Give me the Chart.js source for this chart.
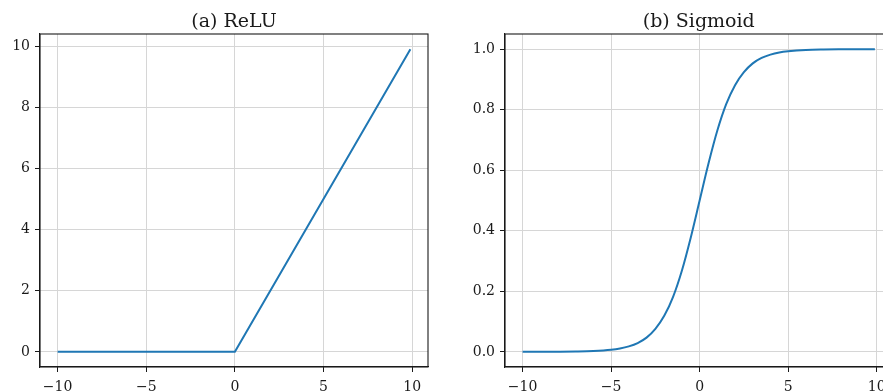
<!DOCTYPE html>
<html>
<head>
<meta charset="utf-8">
<script src="https://cdn.jsdelivr.net/npm/chart.js@4"></script>
<style>
  html, body { margin: 0; padding: 0; background: #fff; overflow: hidden; width: 883px; height: 392px; }
  #reluChart { position: absolute; left: 0; top: 0; }
  #sigmoidChart { position: absolute; left: 440px; top: 0; }
</style>
</head>
<body>
<canvas id="reluChart" width="440" height="392"></canvas>
<canvas id="sigmoidChart" width="470" height="392"></canvas>
<script>
// shared x ticks
const xTicks = [-10, -5, 0, 5, 10];

// (a) ReLU
const reluX = [-10, 0, 9.9];
const reluY = [0, 0, 9.9];
const reluYTicks = [0, 2, 4, 6, 8, 10];

// (b) Sigmoid
const sigX = [-10, -9, -8, -7, -6, -5, -4.5, -4, -3.5, -3, -2.5, -2, -1.5, -1, -0.5,
  0, 0.5, 1, 1.5, 2, 2.5, 3, 3.5, 4, 4.5, 5, 6, 7, 8, 9, 9.9];
const sigY = [0.00005, 0.0001, 0.0003, 0.0009, 0.0025, 0.0067, 0.011, 0.018, 0.029, 0.047,
  0.076, 0.119, 0.182, 0.269, 0.378, 0.5, 0.622, 0.731, 0.818, 0.881, 0.924, 0.953, 0.971,
  0.982, 0.989, 0.993, 0.9975, 0.9991, 0.9997, 0.9999, 0.99995];
const sigYTicks = [0, 0.2, 0.4, 0.6, 0.8, 1.0];

const FONT = 'DejaVu Serif';
const INK = '#1a1a1a';
const GRID = '#d6d6d6';

// full box around the plot area + title centred over it
const frame = {
  id: 'frame',
  afterDraw(chart, args, opts) {
    const a = chart.chartArea, ctx = chart.ctx;
    ctx.save();
    ctx.strokeStyle = INK;
    ctx.lineWidth = 1.1;
    ctx.strokeRect(a.left, a.top, a.right - a.left, a.bottom - a.top);
    ctx.fillStyle = INK;
    ctx.font = '19px "' + FONT + '"';
    ctx.textAlign = 'center';
    ctx.textBaseline = 'alphabetic';
    ctx.fillText(opts.text, (a.left + a.right) / 2, 27);
    ctx.restore();
  }
};

function minus(v) {
  return v < 0 ? '\u2212' + Math.abs(v) : String(v);
}

function plot(canvas, title, xs, ys, yTicks, yMin, yMax, yWidth, rightPad, yFmt, smooth) {
  return new Chart(canvas, {
    type: 'line',
    data: {
      datasets: [{
        data: xs.map((x, i) => ({ x: x, y: ys[i] })),
        borderColor: '#1f77b4',
        borderWidth: 2,
        pointRadius: 0,
        fill: false,
        cubicInterpolationMode: smooth ? 'monotone' : 'default',
        tension: 0
      }]
    },
    options: {
      responsive: false,
      animation: false,
      devicePixelRatio: 1,
      layout: { padding: { left: 0, right: rightPad, top: 34, bottom: 0 } },
      plugins: {
        legend: { display: false },
        tooltip: { enabled: false },
        title: { display: false },
        frame: { text: title }
      },
      scales: {
        x: {
          type: 'linear',
          min: -10.995,
          max: 10.895,
          afterBuildTicks: s => { s.ticks = xTicks.map(v => ({ value: v })); },
          afterFit: s => { s.height = 25; },
          ticks: {
            color: INK,
            font: { family: FONT, size: 14 },
            padding: 7,
            maxRotation: 0,
            autoSkip: false,
            callback: v => minus(v)
          },
          grid: { color: GRID, lineWidth: 1, tickLength: 5, tickColor: INK },
          border: { display: true, color: INK, width: 1.1 }
        },
        y: {
          min: yMin,
          max: yMax,
          afterBuildTicks: s => { s.ticks = yTicks.map(v => ({ value: v })); },
          afterFit: s => { s.width = yWidth; },
          ticks: {
            color: INK,
            font: { family: FONT, size: 14 },
            padding: 5,
            autoSkip: false,
            callback: v => yFmt(v)
          },
          grid: { color: GRID, lineWidth: 1, tickLength: 5, tickColor: INK },
          border: { display: true, color: INK, width: 1.1 }
        }
      }
    },
    plugins: [frame]
  });
}

plot(document.getElementById('reluChart'), '(a) ReLU', reluX, reluY, reluYTicks,
  -0.495, 10.395, 40, 12, v => String(v), false);

plot(document.getElementById('sigmoidChart'), '(b) Sigmoid', sigX, sigY, sigYTicks,
  -0.05, 1.05, 65, 17.5, v => v.toFixed(1), true);
</script>
</body>
</html>
